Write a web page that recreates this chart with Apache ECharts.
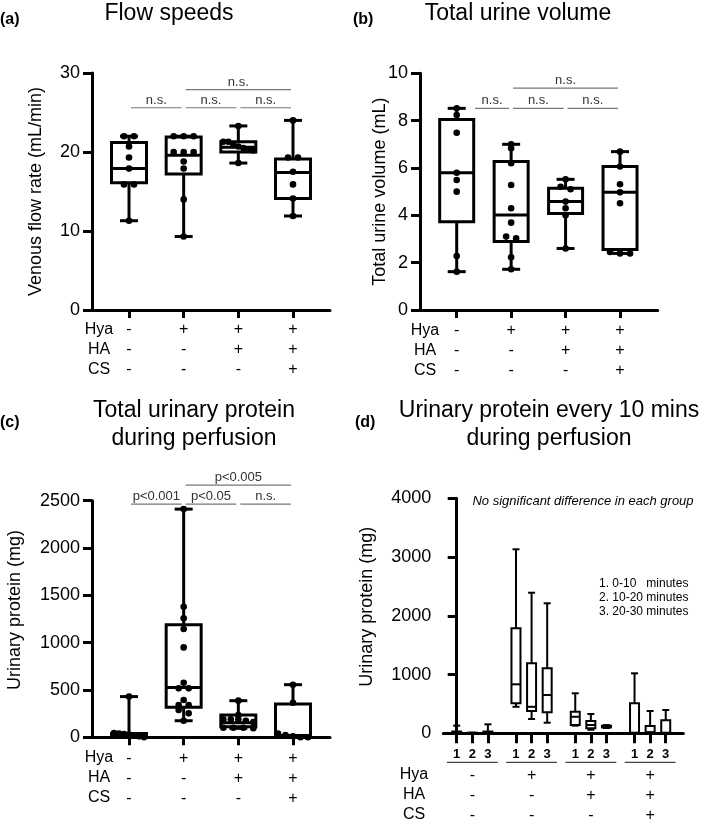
<!DOCTYPE html>
<html>
<head>
<meta charset="utf-8">
<script src="https://cdn.jsdelivr.net/npm/echarts@6/dist/echarts.min.js"></script>
<style>
  html, body { margin: 0; padding: 0; background: #fff; }
  #chart { width: 709px; height: 826px; }
</style>
</head>
<body>
<div id="chart"></div>
<script>
// treatment table under every panel
var hyaSigns = ['-', '+', '+', '+'];
var haSigns = ['-', '-', '+', '+'];
var csSigns = ['-', '-', '-', '+'];

// (a) flow speeds: [min, q1, median, q3, max]
var flowBoxes = [
  [11.3, 16.1, 17.9, 21.2, 22.0],
  [9.3, 17.2, 19.6, 21.9, 22.0],
  [18.6, 20.0, 20.6, 21.3, 23.3],
  [11.9, 14.1, 17.4, 19.1, 24.0]
];
var flowPoints = [
  [22.0, 22.0, 20.7, 19.3, 17.9, 15.9, 15.9, 11.3],
  [22.0, 22.0, 22.0, 20.0, 20.0, 20.0, 18.8, 17.9, 14.0, 9.3],
  [23.3, 21.3, 21.3, 20.9, 20.7, 20.5, 20.3, 20.2, 18.6],
  [24.0, 19.3, 19.3, 17.5, 15.9, 14.1, 11.9]
];
var flowSig = [[1, 2, 25.6], [2, 3, 25.6], [3, 4, 25.6], [2, 4, 27.9]];
var flowSigText = ['n.s.', 'n.s.', 'n.s.', 'n.s.'];

// (b) total urine volume
var urineBoxes = [
  [1.62, 3.73, 5.8, 8.05, 8.52],
  [1.72, 2.89, 4.01, 6.27, 7.0],
  [2.6, 4.08, 4.58, 5.14, 5.52],
  [2.39, 2.56, 4.97, 6.06, 6.69]
];
var urinePoints = [
  [8.52, 8.24, 7.49, 5.8, 5.49, 5.0, 2.28, 1.62],
  [7.0, 6.83, 6.2, 5.28, 4.3, 3.69, 3.1, 3.03, 2.23, 1.72],
  [5.52, 5.21, 5.1, 4.58, 4.3, 4.0, 2.6],
  [6.69, 6.06, 5.31, 4.97, 4.51, 2.45, 2.39, 2.39]
];
var urineSig = [[1.3, 2, 8.52], [2, 3, 8.52], [3, 4, 8.52], [2, 4, 9.37]];
var urineSigText = ['n.s.', 'n.s.', 'n.s.', 'n.s.'];

// (c) total urinary protein
var proteinBoxes = [
  [0, 5, 20, 40, 430],
  [175, 317, 525, 1189, 2411],
  [95, 112, 154, 235, 387],
  [0, 14, 20, 352, 556]
];
var proteinPoints = [
  [430, 45, 40, 35, 30, 20, 10, 0],
  [2411, 1379, 1257, 1144, 950, 577, 517, 517, 394, 341, 341, 288, 253, 175],
  [387, 235, 190, 190, 190, 175, 160, 101, 101, 101, 95],
  [556, 365, 40, 25, 10, 0, 0]
];
var proteinSig = [[1, 2, 2464], [2, 3, 2464], [3, 4, 2464], [2, 4, 2664]];
var proteinSigText = ['p<0.001', 'p<0.05', 'n.s.', 'p<0.005'];

// (d) urinary protein per 10 min, 4 groups x 3 periods
var periodLabels = ['1', '2', '3'];
var periodBoxes = [
  [[0, 0, 10, 30, 130], [0, 0, 0, 10, 10], [0, 0, 10, 30, 153]],
  [[451, 510, 834, 1787, 3132], [243, 380, 451, 1191, 2393], [180, 357, 652, 1106, 2213]],
  [[130, 141, 281, 366, 681], [60, 85, 141, 209, 328], [90, 100, 115, 130, 140]],
  [[0, 0, 10, 510, 1021], [0, 0, 20, 124, 380], [0, 0, 10, 221, 397]]
];
var periodLegend = ['1. 0-10   minutes', '2. 10-20 minutes', '3. 20-30 minutes'];

var font = "'Liberation Sans', Arial, sans-serif";
var groupStep = 3.8; // spacing of period groups on the (d) x axis

function signColumn(i) {
  return hyaSigns[i] + '\n' + haSigns[i] + '\n' + csSigns[i];
}

// spread dots with (nearly) equal values sideways, like a Prism scatter
function spreadPoints(groups, pxPerUnit) {
  var out = [];
  groups.forEach(function (vals, gi) {
    var i = 0;
    while (i < vals.length) {
      var j = i;
      while (j + 1 < vals.length && Math.abs(vals[j + 1] - vals[j]) * pxPerUnit < 4) j++;
      var n = j - i + 1;
      var s = n > 1 ? Math.min(10, 30 / (n - 1)) : 0;
      for (var k = i; k <= j; k++) out.push([gi + 1, vals[k], (k - i - (n - 1) / 2) * s]);
      i = j + 1;
    }
  });
  return out;
}

function boxRender(boxW, capW, lw) {
  return function (params, api) {
    var x = api.value(0);
    var lo = api.coord([x, api.value(1)]);
    var q1 = api.coord([x, api.value(2)]);
    var md = api.coord([x, api.value(3)]);
    var q3 = api.coord([x, api.value(4)]);
    var hi = api.coord([x, api.value(5)]);
    var cx = lo[0];
    var st = {stroke: '#000', lineWidth: lw, fill: null};
    return {
      type: 'group',
      children: [
        {type: 'line', shape: {x1: cx, y1: hi[1], x2: cx, y2: q3[1]}, style: st},
        {type: 'line', shape: {x1: cx, y1: q1[1], x2: cx, y2: lo[1]}, style: st},
        {type: 'line', shape: {x1: cx - capW / 2, y1: hi[1], x2: cx + capW / 2, y2: hi[1]}, style: st},
        {type: 'line', shape: {x1: cx - capW / 2, y1: lo[1], x2: cx + capW / 2, y2: lo[1]}, style: st},
        {type: 'rect', shape: {x: cx - boxW / 2, y: q3[1], width: boxW, height: Math.max(q1[1] - q3[1], 1)},
          style: {stroke: '#000', lineWidth: lw, fill: '#fff'}},
        {type: 'line', shape: {x1: cx - boxW / 2, y1: md[1], x2: cx + boxW / 2, y2: md[1]}, style: st}
      ]
    };
  };
}

function dotRender(params, api) {
  var p = api.coord([api.value(0), api.value(1)]);
  return {type: 'circle', shape: {cx: p[0] + api.value(2), cy: p[1], r: 3.3}, style: {fill: '#000'}};
}

function sigRender(texts) {
  return function (params, api) {
    var p1 = api.coord([api.value(0), api.value(2)]);
    var p2 = api.coord([api.value(1), api.value(2)]);
    var x1 = p1[0] + 2, x2 = p2[0] - 2;
    return {
      type: 'group',
      children: [
        {type: 'line', shape: {x1: x1, y1: p1[1], x2: x2, y2: p1[1]}, style: {stroke: '#777', lineWidth: 1.2}},
        {type: 'text', x: (x1 + x2) / 2, y: p1[1] - 1,
          style: {text: texts[params.dataIndex], align: 'center', verticalAlign: 'bottom',
            fontSize: 13, fontFamily: font, fill: '#333'}}
      ]
    };
  };
}

function boxData(boxes) {
  return boxes.map(function (b, i) { return [i + 1].concat(b); });
}

function groupAxis(gi, min, max, margin) {
  return {
    type: 'value', gridIndex: gi, min: min, max: max, position: 'bottom',
    axisLine: {show: true, onZero: false, lineStyle: {color: '#000', width: 3}},
    axisTick: {show: true, customValues: [1, 2, 3, 4], length: 8, lineStyle: {color: '#000', width: 3}},
    axisLabel: {show: true, customValues: [1, 2, 3, 4], margin: margin, fontSize: 16, lineHeight: 20,
      color: '#000', fontFamily: font,
      formatter: function (v) { return signColumn(Math.round(v) - 1); }},
    splitLine: {show: false}
  };
}

function valueAxis(gi, max, interval, name, gap, shift) {
  return {
    type: 'value', gridIndex: gi, min: 0, max: max, interval: interval,
    axisLine: {show: true, lineStyle: {color: '#000', width: 3}},
    axisTick: {show: true, length: 9, lineStyle: {color: '#000', width: 3}},
    axisLabel: {fontSize: 18, margin: 12, color: '#000', fontFamily: font,
      formatter: function (v) { return String(v); }},
    splitLine: {show: false},
    name: name, nameLocation: 'middle', nameGap: gap, nameRotate: 90, nameMoveOverlap: false,
    nameTextStyle: {fontSize: 18, color: '#000', fontFamily: font, padding: [0, 0, 0, shift || 0]}
  };
}

// (d) positions of every box and of each group's centre
var periodPos = [], periodData = [], groupCenters = [];
periodBoxes.forEach(function (grp, g) {
  groupCenters.push(g * groupStep + 1);
  grp.forEach(function (b, k) {
    var x = g * groupStep + k;
    periodPos.push(x);
    periodData.push([x].concat(b));
  });
});

function text(x, y, str, size, extra) {
  var st = {text: str, fontSize: size, fontFamily: font, fill: '#000', align: 'center', verticalAlign: 'middle'};
  for (var key in extra) st[key] = extra[key];
  return {type: 'text', x: x, y: y, style: st, silent: true};
}

var graphics = [
  text(0, 20, '(a)', 16, {fontWeight: 'bold', align: 'left'}),
  text(353, 20, '(b)', 16, {fontWeight: 'bold', align: 'left'}),
  text(0, 423, '(c)', 16, {fontWeight: 'bold', align: 'left'}),
  text(355, 423, '(d)', 16, {fontWeight: 'bold', align: 'left'}),
  text(169, 14, 'Flow speeds', 23),
  text(518, 14, 'Total urine volume', 23),
  text(194, 411, 'Total urinary protein', 23),
  text(194, 439, 'during perfusion', 23),
  text(549, 411, 'Urinary protein every 10 mins', 23),
  text(549, 439, 'during perfusion', 23),
  text(583, 501, 'No significant difference in each group', 13, {fontStyle: 'italic'})
];
periodLegend.forEach(function (s, i) {
  graphics.push(text(599, 584 + i * 14, s, 12, {align: 'left'}));
});
[[99, 330], [425, 331], [99, 758], [414, 775]].forEach(function (p) {
  ['Hya', 'HA', 'CS'].forEach(function (s, i) {
    graphics.push(text(p[0], p[1] + i * 20, s, 16));
  });
});

var chart = echarts.init(document.getElementById('chart'));
chart.setOption({
  backgroundColor: '#fff',
  animation: false,
  textStyle: {fontFamily: font},
  grid: [
    {left: 92, top: 73, width: 238, height: 237, outerBoundsMode: 'none'},
    {left: 420, top: 73.3, width: 237.7, height: 236.7, outerBoundsMode: 'none'},
    {left: 92, top: 500.7, width: 238, height: 236.6, outerBoundsMode: 'none'},
    {left: 443.3, top: 498.3, width: 240, height: 235, outerBoundsMode: 'none'}
  ],
  xAxis: [
    groupAxis(0, 0.323, 4.677, 10),
    groupAxis(1, 0.326, 4.692, 11),
    groupAxis(2, 0.323, 4.677, 11),
    {
      type: 'value', gridIndex: 3, min: -0.859, max: 14.526, position: 'bottom',
      axisLine: {show: true, onZero: false, lineStyle: {color: '#000', width: 3}},
      axisTick: {show: true, customValues: periodPos, length: 10, lineStyle: {color: '#000', width: 3}},
      axisLabel: {show: true, customValues: periodPos, margin: 15, fontSize: 13, fontWeight: 'bold',
        color: '#000', fontFamily: font,
        formatter: function (v) {
          var k = Math.round(v - Math.floor(v / groupStep + 0.001) * groupStep);
          return periodLabels[k];
        }},
      splitLine: {show: false}
    },
    {
      type: 'value', gridIndex: 3, min: -0.859, max: 14.526, position: 'bottom',
      axisLine: {show: false}, axisTick: {show: false},
      axisLabel: {show: true, customValues: groupCenters, margin: 32, fontSize: 16, lineHeight: 20,
        color: '#000', fontFamily: font,
        formatter: function (v) { return signColumn(Math.round((v - 1) / groupStep)); }},
      splitLine: {show: false}
    }
  ],
  yAxis: [
    valueAxis(0, 30, 10, 'Venous flow rate (mL/min)', 47),
    valueAxis(1, 10, 2, 'Total urine volume (mL)', 31),
    valueAxis(2, 2500, 500, 'Urinary protein (mg)', 68, 18),
    valueAxis(3, 4000, 1000, 'Urinary protein (mg)', 67, 18)
  ],
  graphic: graphics,
  series: [
    {type: 'custom', xAxisIndex: 0, yAxisIndex: 0, z: 2, silent: true, data: boxData(flowBoxes), renderItem: boxRender(35, 18, 3)},
    {type: 'custom', xAxisIndex: 0, yAxisIndex: 0, z: 3, silent: true, data: spreadPoints(flowPoints, 7.9), renderItem: dotRender},
    {type: 'custom', xAxisIndex: 0, yAxisIndex: 0, z: 3, silent: true, clip: false, data: flowSig, renderItem: sigRender(flowSigText)},

    {type: 'custom', xAxisIndex: 1, yAxisIndex: 1, z: 2, silent: true, data: boxData(urineBoxes), renderItem: boxRender(34, 18, 3)},
    {type: 'custom', xAxisIndex: 1, yAxisIndex: 1, z: 3, silent: true, data: spreadPoints(urinePoints, 23.67), renderItem: dotRender},
    {type: 'custom', xAxisIndex: 1, yAxisIndex: 1, z: 3, silent: true, clip: false, data: urineSig, renderItem: sigRender(urineSigText)},

    {type: 'custom', xAxisIndex: 2, yAxisIndex: 2, z: 2, silent: true, data: boxData(proteinBoxes), renderItem: boxRender(35, 18, 3)},
    {type: 'custom', xAxisIndex: 2, yAxisIndex: 2, z: 3, silent: true, data: spreadPoints(proteinPoints, 0.0947), renderItem: dotRender},
    {type: 'custom', xAxisIndex: 2, yAxisIndex: 2, z: 3, silent: true, clip: false, data: proteinSig, renderItem: sigRender(proteinSigText)},

    {type: 'custom', xAxisIndex: 3, yAxisIndex: 3, z: 2, silent: true, data: periodData, renderItem: boxRender(9, 7, 2)},
    {
      type: 'custom', xAxisIndex: 3, yAxisIndex: 3, z: 3, silent: true, clip: false,
      data: groupCenters.map(function (c) { return [c, 0]; }),
      renderItem: function (params, api) {
        var a = api.coord([api.value(0) - 1.63, 0]);
        var b = api.coord([api.value(0) + 1.63, 0]);
        return {type: 'line', shape: {x1: a[0], y1: a[1] + 29, x2: b[0], y2: a[1] + 29},
          style: {stroke: '#444', lineWidth: 1.2}};
      }
    }
  ]
});
</script>
</body>
</html>
